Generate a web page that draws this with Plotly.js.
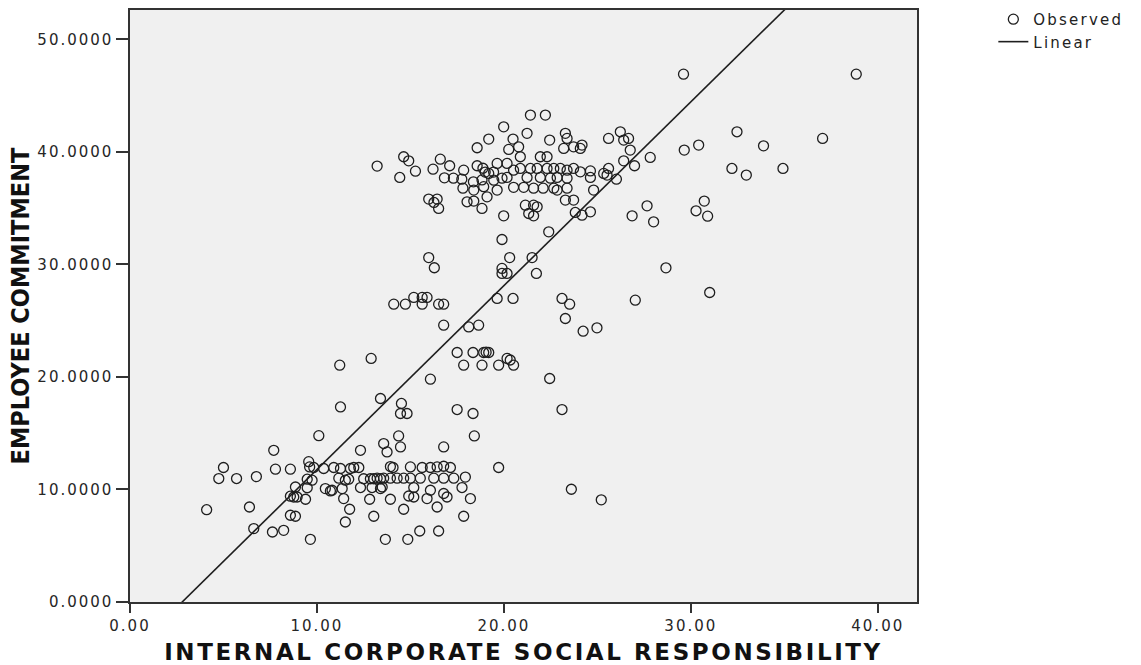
<!DOCTYPE html>
<html>
<head>
<meta charset="utf-8">
<script src="https://cdn.plot.ly/plotly-3.0.1.min.js"></script>
<style>
  html, body { margin: 0; padding: 0; background: #ffffff; }
  #chart { width: 1141px; height: 665px; }
</style>
</head>
<body>
<div id="chart"></div>
<script>
// INTERNAL CORPORATE SOCIAL RESPONSIBILITY (x) and EMPLOYEE COMMITMENT (y), observed cases
const icsr = [
  4.1,4.75,5.0,5.7,6.39,6.62,6.76,7.62,7.69,7.78,8.22,8.58,8.58,8.58,8.85,8.85,8.94,9.39,9.48,9.48,
  9.56,9.61,9.65,9.74,9.83,10.1,10.36,10.45,10.72,10.81,10.9,11.17,11.26,11.26,11.35,11.43,11.52,11.52,11.7,11.75,
  11.79,11.97,12.24,12.33,12.33,12.5,12.82,12.86,12.95,13.04,13.04,13.22,13.4,13.4,13.4,13.57,13.57,13.66,13.75,13.93,
  13.93,13.93,14.07,14.29,14.37,14.47,14.47,14.52,14.64,14.64,14.82,14.86,14.91,15.0,15.0,15.18,15.18,15.5,15.53,15.63,
  15.89,16.07,16.07,16.07,16.25,16.43,16.43,16.51,16.78,16.78,16.78,16.78,16.96,17.14,17.32,17.5,17.76,17.85,17.94,18.21,
  18.35,18.42,19.72,23.61,25.21,13.49,8.76,
  11.22,12.9,14.11,14.73,15.18,15.63,15.89,15.63,16.51,16.78,16.78,15.98,16.28,17.5,17.85,18.12,18.35,18.65,18.83,18.92,
  19.19,19.05,19.64,19.72,19.9,19.9,20.17,20.17,20.31,20.49,20.52,20.34,19.9,21.51,21.74,22.4,22.45,23.11,23.52,23.29,
  24.24,24.98,23.11,27.03,28.67,31.01,
  19.99,13.22,14.43,14.64,14.91,15.27,15.98,16.21,16.43,16.51,16.26,16.6,16.82,17.1,17.3,17.75,17.85,18.03,18.39,18.57,
  18.57,18.37,18.83,18.88,19.1,19.19,19.19,19.46,19.64,19.64,19.99,20.17,20.17,20.52,20.26,20.49,20.52,20.79,20.88,20.88,
  21.06,21.15,21.24,21.24,21.33,21.42,21.42,21.59,21.59,21.78,21.78,21.95,21.95,22.1,22.22,22.31,22.31,22.45,22.67,22.67,
  22.85,23.02,23.2,23.29,23.38,23.38,23.38,23.29,23.73,23.73,23.73,23.82,24.09,24.18,24.09,24.18,24.63,24.63,24.8,25.6,
  25.6,25.34,25.52,26.02,26.23,26.41,26.67,26.41,26.76,26.99,27.83,26.86,27.66,28.01,29.61,29.65,30.42,30.72,30.28,30.9,
  32.47,32.2,32.97,33.89,34.93,37.05,38.85,19.0,19.45,24.63,18.83,19.9,22.49,23.38,17.81,18.39,18.92,21.59,22.85
];
const commitment = [
  8.2,10.97,11.95,10.97,8.44,6.52,11.14,6.22,13.48,11.8,6.37,11.8,9.4,7.71,10.22,7.62,9.33,9.13,10.15,10.91,
  12.47,12.0,5.57,10.82,11.95,14.78,11.86,10.08,9.87,9.93,11.95,11.0,11.86,17.33,10.08,9.19,10.82,7.11,10.91,8.24,
  11.86,11.95,11.95,13.48,10.17,10.95,9.13,10.95,10.17,7.62,10.95,11.0,18.08,10.08,10.95,14.08,11.0,5.57,13.33,12.03,
  11.0,9.13,11.95,11.0,14.76,13.78,16.75,17.64,11.0,8.24,16.75,5.57,9.42,12.0,11.0,10.17,9.33,6.31,11.0,11.95,
  9.19,11.95,9.93,19.8,11.0,12.0,8.44,6.31,12.06,13.78,9.64,11.0,9.33,11.95,11.0,17.1,10.17,7.62,11.1,9.19,
  16.75,14.76,11.95,10.02,9.08,10.22,9.33,
  21.04,21.64,26.46,26.46,27.06,27.06,27.06,26.46,26.46,26.46,24.6,30.6,29.7,22.17,21.04,24.44,22.17,24.6,21.04,22.17,
  22.17,22.2,26.97,21.04,29.64,29.19,29.19,21.64,30.6,26.97,21.04,21.5,32.21,30.6,29.19,32.89,19.86,26.97,26.46,25.19,
  24.06,24.36,17.1,26.82,29.69,27.5,
  34.31,38.73,37.72,39.56,39.2,38.28,35.8,38.46,35.8,34.97,35.5,39.35,37.69,38.76,37.66,37.57,38.37,35.56,35.62,40.36,
  38.76,37.33,34.97,38.54,36.0,41.13,38.08,37.48,38.97,36.6,42.22,38.97,37.72,38.37,40.21,41.13,36.84,40.44,39.56,38.52,
  36.84,35.26,41.64,37.72,34.52,43.26,38.52,35.26,34.31,35.11,38.52,39.56,37.72,36.77,43.26,39.56,38.52,41.04,38.52,36.77,
  37.72,38.52,40.3,41.64,41.19,38.37,36.77,35.71,40.44,38.52,35.71,34.61,40.3,40.6,38.22,34.37,37.72,34.67,36.6,41.19,
  38.52,38.08,37.93,37.57,41.78,41.04,41.19,39.2,40.15,38.76,39.5,34.31,35.2,33.78,46.9,40.15,40.6,35.62,34.76,34.28,
  41.78,38.52,37.93,40.53,38.52,41.19,46.9,38.2,38.2,38.3,37.5,37.66,37.66,37.66,36.77,36.6,36.9,36.77,36.6
];

// Linear fit
const fitIntercept = -4.56;
const fitSlope = 1.633;

const xRange = [0, 42.1];
const yRange = [0, 52.6];
const xTickVals = [0, 10, 20, 30, 40];
const yTickVals = [0, 10, 20, 30, 40, 50];

const fitX = [xRange[0], xRange[1]];
const fitY = fitX.map(v => fitIntercept + fitSlope * v);

const tickFont = { family: 'DejaVu Sans, sans-serif', size: 15, color: '#262626' };

const data = [
  {
    type: 'scatter', mode: 'markers', name: 'Observed',
    x: icsr, y: commitment,
    marker: { symbol: 'circle-open', size: 10, color: '#1e1e1e', line: { width: 1.3, color: '#1e1e1e' } },
    hoverinfo: 'skip'
  },
  {
    type: 'scatter', mode: 'lines', name: 'Linear',
    x: fitX, y: fitY,
    line: { color: '#1e1e1e', width: 1.6 },
    hoverinfo: 'skip'
  }
];

const layout = {
  width: 1141, height: 665,
  margin: { l: 130, r: 224, t: 10, b: 63, autoexpand: false },
  paper_bgcolor: '#ffffff',
  plot_bgcolor: '#f0f0f0',
  showlegend: true,
  legend: {
    x: 1.097, y: 1.012, xanchor: 'left', yanchor: 'top',
    bgcolor: 'rgba(0,0,0,0)', borderwidth: 0,
    font: { family: 'DejaVu Sans, sans-serif', size: 15, color: '#222' },
    tracegroupgap: 0, itemwidth: 30
  },
  xaxis: {
    range: xRange, tickvals: xTickVals, tickformat: '.2f',
    showgrid: false, zeroline: false,
    showline: true, mirror: true, linecolor: '#333', linewidth: 1.6,
    ticks: 'outside', ticklen: 9, tickwidth: 2, tickcolor: '#333',
    tickfont: tickFont,
    title: { text: 'INTERNAL CORPORATE SOCIAL RESPONSIBILITY', standoff: 14,
             font: { family: 'DejaVu Sans, sans-serif', size: 23, color: '#111', weight: 'bold' } }
  },
  yaxis: {
    range: yRange, tickvals: yTickVals, tickformat: '.4f',
    showgrid: false, zeroline: false,
    showline: true, mirror: true, linecolor: '#333', linewidth: 1.6,
    ticks: 'outside', ticklen: 12, tickwidth: 2, tickcolor: '#333',
    tickfont: tickFont,
    title: { text: 'EMPLOYEE COMMITMENT', standoff: 14,
             font: { family: 'Liberation Sans Narrow, DejaVu Sans Condensed, Liberation Sans, sans-serif', size: 25, color: '#111', weight: 'bold' } }
  }
};

Plotly.newPlot('chart', data, layout, { staticPlot: true }).then(gd => {
  gd.querySelectorAll('.xtick text, .ytick text').forEach(t => { t.style.letterSpacing = '2px'; });
  gd.querySelectorAll('.xtitle').forEach(t => { t.style.letterSpacing = '2.6px'; });
  gd.querySelectorAll('.legendtext').forEach(t => { t.style.letterSpacing = '2.2px'; });
  gd.querySelectorAll('.legend [clip-path], .legend').forEach(el => { el.removeAttribute('clip-path'); });
});
</script>
</body>
</html>
